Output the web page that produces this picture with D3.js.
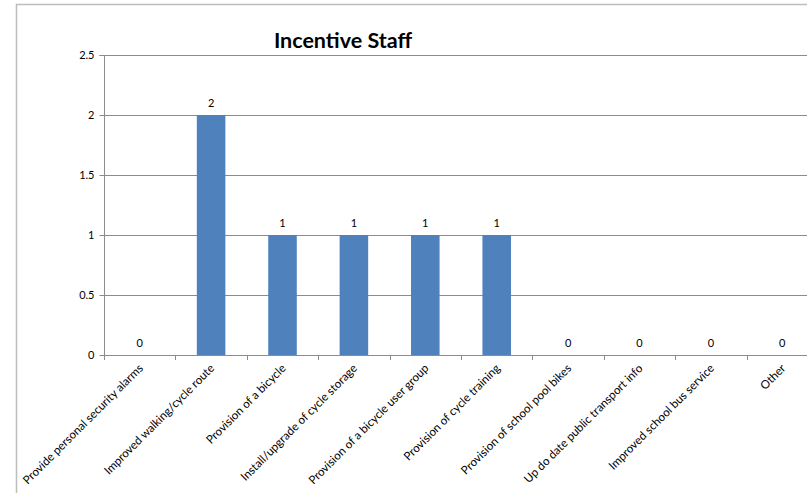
<!DOCTYPE html>
<html><head><meta charset="utf-8">
<script src="https://cdn.jsdelivr.net/npm/d3@7"></script>
<style>body{margin:0;background:#fff}svg{display:block}</style>
</head><body>
<script>
const categories = ["Provide personal security alarms","Improved walking/cycle route","Provision of a bicycle","Install/upgrade of cycle storage","Provision of a bicycle user group","Provision of cycle training","Provision of school pool bikes","Up do date public transport info","Improved school bus service","Other"];
const values = [0,2,1,1,1,1,0,0,0,0];
const yTicks = [0,0.5,1,1.5,2,2.5];
const title = "Incentive Staff";

(function(){
const W = 807, H = 493;
const font = "Lato, 'Open Sans', sans-serif";
const svg = d3.select("body").append("svg").attr("width", W).attr("height", H);

// outer frame
svg.append("path").attr("d", `M16.5,${H} L16.5,4.5 L${W},4.5`).attr("fill","none").attr("stroke","#bdbdbd").attr("stroke-width",1.5);

const mL = 104, mR = 818, mT = 55, mB = 355;
const x = d3.scaleBand().domain(categories).range([mL, mR]).padding(0);
const y = d3.scaleLinear().domain([0, 2.5]).range([mB, mT]);

// gridlines
svg.append("g").selectAll("line").data(yTicks.filter(d=>d>0)).join("line")
  .attr("x1", mL).attr("x2", W).attr("y1", d=>y(d)+0.5).attr("y2", d=>y(d)+0.5)
  .attr("stroke","#8c8c8c").attr("stroke-width",1);

// bars
const bw = x.bandwidth()*0.4;
svg.append("g").selectAll("rect").data(values).join("rect")
  .attr("x",(d,i)=>x(categories[i])+x.bandwidth()/2-bw/2)
  .attr("width",bw)
  .attr("y",d=>y(d)).attr("height",d=>y(0)-y(d))
  .attr("fill","#4f81bd");

// data labels
svg.append("g").selectAll("text").data(values).join("text")
  .attr("x",(d,i)=>x(categories[i])+x.bandwidth()/2)
  .attr("y",d=>y(d)-8)
  .attr("text-anchor","middle").attr("font-family",font).attr("font-size",11).attr("fill","#000")
  .text(d=>d);

// y axis
const yAxis = d3.axisLeft(y).tickValues(yTicks).tickSize(5).tickFormat(d=>d);
const gy = svg.append("g").attr("transform",`translate(${mL+0.5},0)`).call(yAxis);
gy.select(".domain").attr("stroke","#8c8c8c").attr("d",`M-5,${y(2.5)+0.5}H0V${y(0)+0.5}`);
gy.selectAll(".tick line").attr("stroke","#8c8c8c");
gy.selectAll(".tick text").attr("font-family",font).attr("font-size",11).attr("fill","#000").attr("x",-10);

// x axis
const xAxis = d3.axisBottom(x).tickSize(0).tickFormat("");
const gx = svg.append("g").attr("transform",`translate(0,${mB+0.5})`).call(xAxis);
gx.select(".domain").attr("stroke","#8c8c8c").attr("d",`M${mL},0H${W}`);
gx.selectAll(".tick").remove();
svg.append("g").selectAll("line").data(d3.range(categories.length+1)).join("line")
  .attr("x1",i=>Math.round(mL+i*x.step())+0.5).attr("x2",i=>Math.round(mL+i*x.step())+0.5)
  .attr("y1",mB).attr("y2",mB+5).attr("stroke","#8c8c8c");

svg.append("g").selectAll("text").data(categories).join("text")
  .attr("transform",d=>`translate(${x(d)+x.bandwidth()/2+4},${mB+14}) rotate(-45)`)
  .attr("text-anchor","end").attr("font-family",font).attr("font-size",11.6).attr("fill","#000")
  .text(d=>d);

// title
svg.append("text").attr("x",343).attr("y",48).attr("text-anchor","middle")
  .attr("font-family",font).attr("font-weight","bold").attr("font-size",21.5).attr("fill","#000")
  .text(title);
})();
</script>
</body></html>
